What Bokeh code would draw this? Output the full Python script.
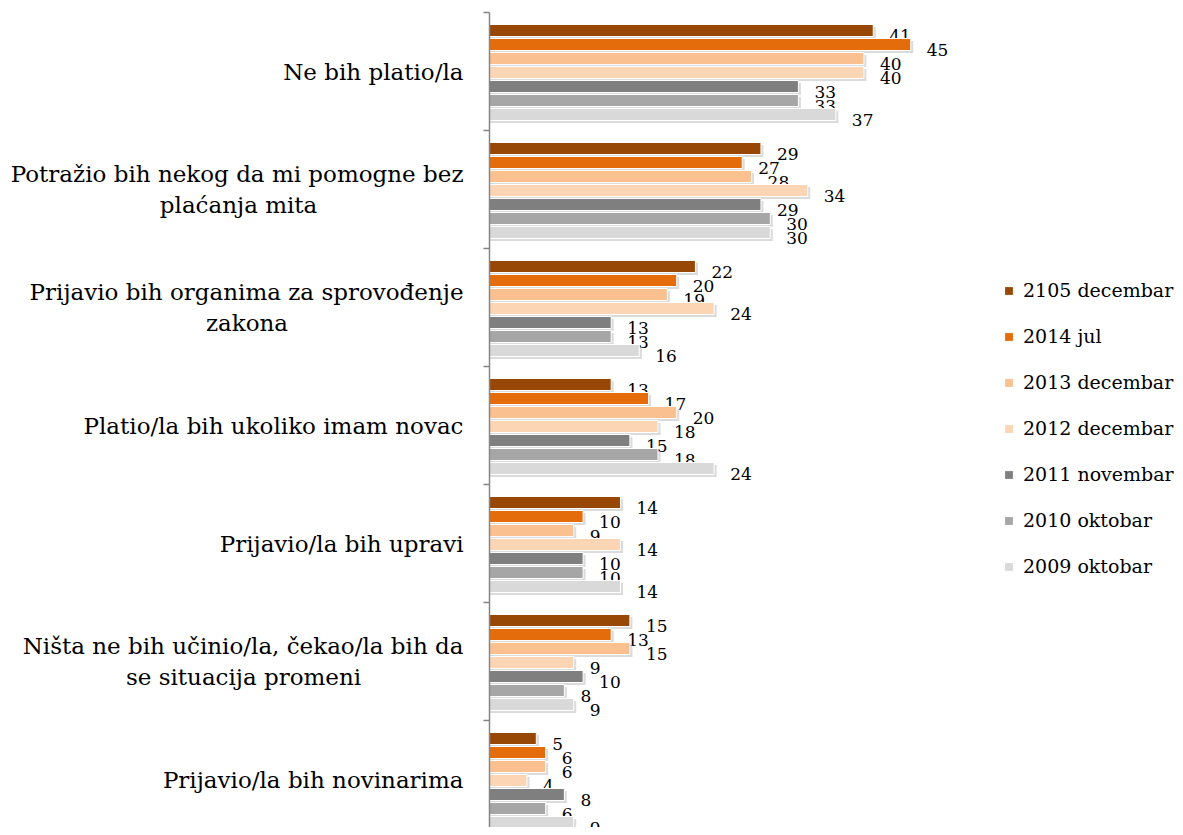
from bokeh.plotting import figure
from bokeh.models import ColumnDataSource, Range1d, FixedTicker, Legend, LegendItem
from bokeh.core.properties import value
from bokeh.embed import file_html
from bokeh.resources import INLINE

NB = "\u00a0"
categories = [
    "Ne bih platio/la",
    "Potražio bih nekog da mi pomogne bez\nplaćanja mita",
    "Prijavio bih organima za sprovođenje\nzakona",
    "Platio/la bih ukoliko imam novac",
    "Prijavio/la bih upravi",
    "Ništa ne bih učinio/la, čekao/la bih da\nse situacija promeni",
    "Prijavio/la bih novinarima",
]
series_names = ["2105 decembar", "2014 jul", "2013 decembar", "2012 decembar",
                "2011 novembar", "2010 oktobar", "2009 oktobar"]
s2105_dec = [41, 29, 22, 13, 14, 15, 5]
s2014_jul = [45, 27, 20, 17, 10, 13, 6]
s2013_dec = [40, 28, 19, 20, 9, 15, 6]
s2012_dec = [40, 34, 24, 18, 14, 9, 4]
s2011_nov = [33, 29, 13, 15, 10, 10, 8]
s2010_okt = [33, 30, 13, 18, 10, 8, 6]
s2009_okt = [37, 30, 16, 24, 14, 9, 9]
series_values = [s2105_dec, s2014_jul, s2013_dec, s2012_dec, s2011_nov, s2010_okt, s2009_okt]
colors = ["#974706", "#E46C0A", "#FAC090", "#FCD5B5", "#7F7F7F", "#A6A6A6", "#D9D9D9"]

# trailing no-break spaces so that the second line sits centred under the first
second_line_pad = {1: 20, 2: 24, 5: 14}

FONT = "DejaVu Serif"
BAND = 118.0          # px per category band
PXU = 9.36            # px per value unit
LEFT = 489
TOP = 12
W = 1175
H = 827
FRAME_W = W - LEFT
FRAME_H = H - TOP

p = figure(width=W, height=H, output_backend="svg", toolbar_location=None,
           x_range=Range1d(0, FRAME_W / PXU), y_range=Range1d(FRAME_H / BAND, 0),
           min_border_left=LEFT, min_border_right=0, min_border_top=TOP, min_border_bottom=0,
           x_axis_location=None)
p.outline_line_color = None
p.xgrid.visible = False
p.ygrid.visible = False

n = len(categories)
tick_labels = {}
for i, c in enumerate(categories):
    if i in second_line_pad:
        c = c + NB * second_line_pad[i]
    tick_labels[i + 0.5] = c
p.yaxis.ticker = FixedTicker(ticks=[i + 0.5 for i in range(n)], minor_ticks=list(range(0, n + 1)))
p.yaxis.major_label_overrides = tick_labels
p.yaxis.major_label_text_font = FONT
p.yaxis.major_label_text_font_size = "23px"
p.yaxis.major_label_text_color = "black"
p.yaxis.major_label_standoff = 20
p.yaxis.major_tick_line_color = None
p.yaxis.major_tick_out = 0
p.yaxis.major_tick_in = 0
p.yaxis.axis_line_color = "#868686"
p.yaxis.axis_line_width = 1.5
p.yaxis.minor_tick_line_color = "#868686"
p.yaxis.minor_tick_line_width = 1.5
p.yaxis.minor_tick_out = 6
p.yaxis.minor_tick_in = 0

renderers = []
bar_h = 12.0 / BAND
for j, (name, vals, col) in enumerate(zip(series_names, series_values, colors)):
    ys = [i + (60 + (j - 3) * 14) / BAND for i in range(n)]
    src = ColumnDataSource(dict(
        y=ys, v=vals, lbl=[str(v) for v in vals],
        ys=[y + 2.5 / BAND for y in ys], vs=[v + 2.5 / PXU for v in vals]))
    p.hbar(y="ys", left=0, right="vs", height=bar_h, source=src,
           fill_color="#bdbdbd", fill_alpha=0.55, line_color=None)
    r = p.hbar(y="y", left=0, right="v", height=bar_h, source=src,
               fill_color=col, line_color="white", line_width=1)
    renderers.append(r)
    p.text(x="v", y="y", text="lbl", source=src, x_offset=16, y_offset=5,
           text_align="left", text_baseline="middle",
           text_font=value(FONT), text_font_size="17px", text_color="black")

legend = Legend(items=[LegendItem(label=nm, renderers=[r]) for nm, r in zip(series_names, renderers)],
                location=(514, 250), padding=0, margin=0, border_line_alpha=0,
                background_fill_alpha=0, label_text_font=FONT, label_text_font_size="19px",
                label_text_color="black",
                glyph_width=11, glyph_height=11, label_standoff=9, spacing=24, label_height=22)
p.add_layout(legend)

open("out.html", "w").write(file_html(p, INLINE))
